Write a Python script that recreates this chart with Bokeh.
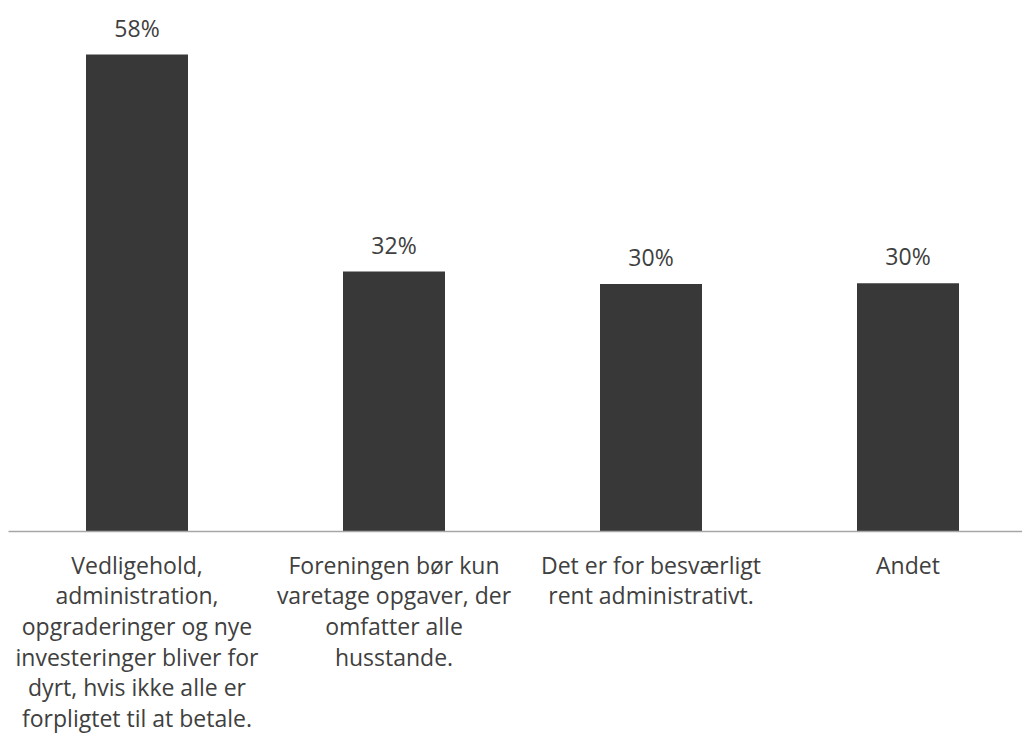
from bokeh.plotting import figure
from bokeh.models import ColumnDataSource, Range1d, FixedTicker, LabelSet
from bokeh.core.properties import value
from bokeh.embed import file_html
from bokeh.resources import INLINE

categories = [
    "Vedligehold,\nadministration,\nopgraderinger og nye\ninvesteringer bliver for\ndyrt, hvis ikke alle er\nforpligtet til at betale.",
    "Foreningen bør kun\nvaretage opgaver, der\nomfatter alle\nhusstande.",
    "Det er for besværligt\nrent administrativt.",
    "Andet",
]
values = [0.58, 0.316, 0.301, 0.302]
value_labels = ["58%", "32%", "30%", "30%"]

xpos = [i + 0.5 for i in range(len(categories))]
src = ColumnDataSource(dict(x=xpos, top=values, lab=value_labels))

p = figure(width=1022, height=740, output_backend="svg", toolbar_location=None,
           x_range=Range1d(0, 1014 / 257), y_range=Range1d(0, 0.58 * 531 / 477),
           min_border_left=8, min_border_right=0, min_border_top=0, min_border_bottom=209)
p.outline_line_color = None
p.background_fill_color = "white"
p.border_fill_color = "white"
p.grid.visible = False
p.yaxis.visible = False

p.vbar(x="x", top="top", width=102 / 257, bottom=0, source=src,
       fill_color="#383838", line_color=None)

labels = LabelSet(x="x", y="top", text="lab", source=src, y_offset=27,
                  text_align="center", text_baseline="middle",
                  text_font=value("Open Sans"), text_font_size=value("23px"),
                  text_color="#404040")
p.add_layout(labels)

ax = p.xaxis[0]
ax.ticker = FixedTicker(ticks=xpos)
ax.major_label_overrides = {x: c for x, c in zip(xpos, categories)}
ax.major_tick_line_color = None
ax.minor_tick_line_color = None
ax.axis_line_color = "#a6a6a6"
ax.axis_line_width = 1.5
ax.major_label_text_font = "Open Sans"
ax.major_label_text_font_size = "23px"
ax.major_label_text_color = "#404040"
ax.major_label_text_line_height = 0.96
ax.major_label_standoff = 11

open("out.html", "w").write(file_html(p, INLINE))
